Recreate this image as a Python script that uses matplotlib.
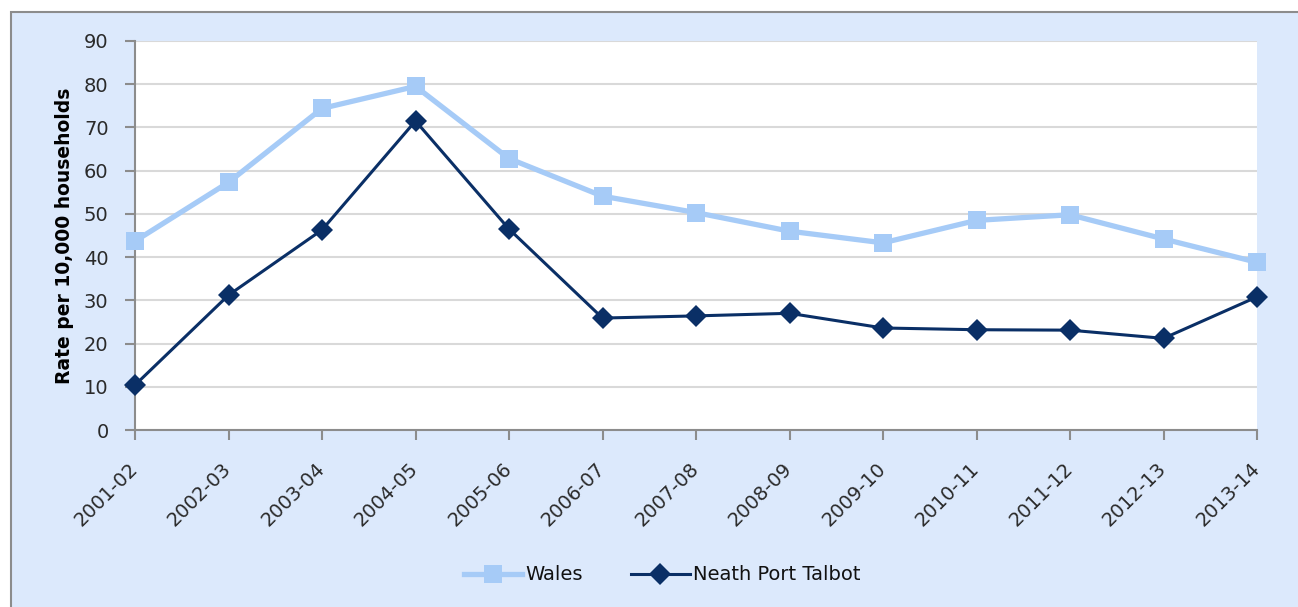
import matplotlib
matplotlib.use("Agg")
import matplotlib.pyplot as plt
from matplotlib.patches import Rectangle

years = ["2001-02", "2002-03", "2003-04", "2004-05", "2005-06", "2006-07", "2007-08",
         "2008-09", "2009-10", "2010-11", "2011-12", "2012-13", "2013-14"]
wales = [43.7, 57.3, 74.4, 79.5, 62.8, 54.1, 50.3, 46.0, 43.3, 48.5, 49.8, 44.2, 38.8]
neath_pt = [10.4, 31.2, 46.3, 71.5, 46.5, 25.9, 26.4, 27.0, 23.6, 23.2, 23.1, 21.2, 30.8]
y_ticks = [0, 10, 20, 30, 40, 50, 60, 70, 80, 90]

W, H = 1298, 607
fig = plt.figure(figsize=(W / 100, H / 100), dpi=100)
fig.patch.set_facecolor("white")

# chart frame (only its top and left edges fall inside the canvas)
frame = Rectangle((11 / W, -0.1), 1.0, 1.1 - 12 / H, transform=fig.transFigure,
                  facecolor="#DCE9FC", edgecolor="#8C8C8C", linewidth=1.5, zorder=-10)
fig.patches.append(frame)

ax = fig.add_axes([135 / W, 1 - 430 / H, (1257 - 135) / W, (430 - 41) / H])
ax.set_facecolor("white")

x = list(range(len(years)))
ax.plot(x, wales, color="#A6CBF7", linewidth=3.8, marker="s", markersize=13,
        markeredgewidth=0, label="Wales", clip_on=False, zorder=3)
ax.plot(x, neath_pt, color="#0A2F66", linewidth=2.2, marker="D", markersize=11,
        markeredgewidth=0, markerfacecolor="#0A2F66", label="Neath Port Talbot",
        clip_on=False, zorder=4)

ax.set_xlim(0, len(years) - 1)
ax.set_ylim(0, 90)
ax.set_yticks(y_ticks)
ax.set_xticks(x)
ax.set_xticklabels(years, rotation=45, ha="right", va="center", rotation_mode="anchor")

ax.grid(axis="y", color="#D9D9D9", linewidth=1.5)
ax.set_axisbelow(True)
for side in ("top", "right"):
    ax.spines[side].set_visible(False)
for side in ("left", "bottom"):
    ax.spines[side].set_color("#8C8C8C")
    ax.spines[side].set_linewidth(1.5)

ax.tick_params(axis="both", colors="#8C8C8C", width=1.5, length=7, labelcolor="#2A2A2A",
               labelsize=14)
ax.tick_params(axis="x", pad=19)
ax.tick_params(axis="y", pad=12)

ax.set_ylabel("Rate per 10,000 households", fontsize=13.5, fontweight="bold",
              color="black", labelpad=7)

fig.legend(loc="center", bbox_to_anchor=(0.51, 1 - 575 / H), ncol=2, frameon=False,
           fontsize=14, handlelength=3.0, columnspacing=2.5, handletextpad=0.15,
           labelcolor="#111111")

fig.savefig("out.png", dpi=100, facecolor=fig.get_facecolor())
